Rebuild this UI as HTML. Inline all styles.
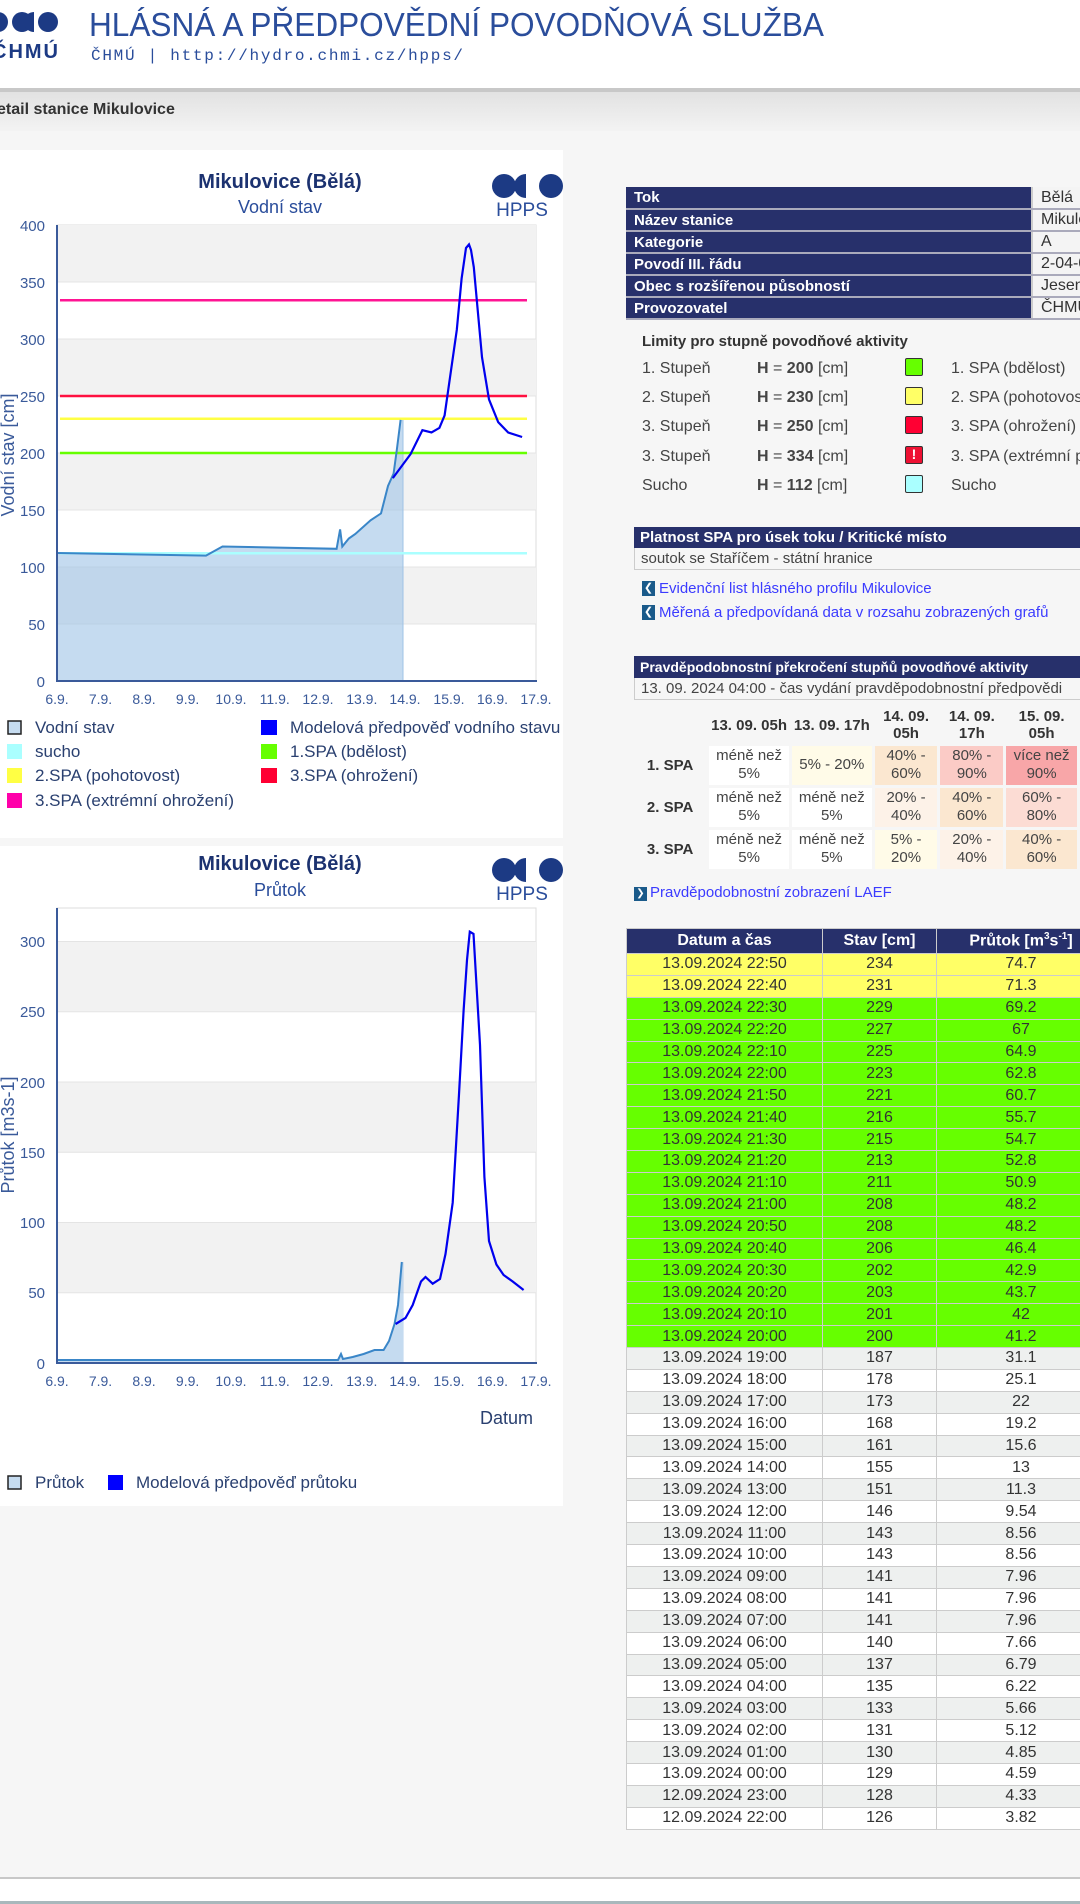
<!DOCTYPE html>
<html><head><meta charset="utf-8">
<style>
*{margin:0;padding:0;box-sizing:border-box}
html,body{width:1080px;height:1904px;overflow:hidden}
body{background:#f6f6f6;font-family:"Liberation Sans",sans-serif;color:#333}
#wrap{position:relative;width:1080px;height:1904px;overflow:hidden}
.a{position:absolute}
table{border-collapse:collapse}
.info{table-layout:fixed}
.info td{height:22px;font-size:15px;padding:0 8px;border-bottom:2px solid #aab;white-space:nowrap;overflow:hidden}
.info td.h{background:#27306b;color:#fff;font-weight:bold}
.info td.v{background:#f4f4f4;color:#333;font-size:16px;border-left:2px solid #ccc}
.lim div{position:absolute;font-size:16px;color:#444;white-space:nowrap}
.sq{position:absolute;width:18px;height:18px;border:1.5px solid #333;border-radius:2px}
.prob td{font-size:15px;text-align:center;line-height:18px;color:#444;border:3px solid #f6f6f6}
.prob th{font-size:15px;font-weight:bold;color:#333;line-height:17px}
.dt td{height:21.9px;font-size:16px;text-align:center;border:1px solid #ccc;color:#333;padding:0}
.dt th{height:25px;background:#27306b;color:#fff;font-size:16px;border:1px solid #ccc;white-space:nowrap}
.y td{background:#ffff66}.g td{background:#66ff00}.w td{background:#fff}.e td{background:#eef0ef}
</style></head><body><div id="wrap">
<div class="a" style="left:0;top:0;width:1080px;height:88px;background:#fff"></div>
<svg class="a" style="left:0;top:0" width="1080" height="140">
<circle cx="-2" cy="22" r="10" fill="#1c3a84"/>
<circle cx="22" cy="22" r="10" fill="#1c3a84"/>
<path d="M34 12 L34 32 A10 10 0 0 1 34 12Z" fill="#1c3a84"/>
<circle cx="48" cy="22" r="10" fill="#1c3a84"/>
<text x="-8" y="58" font-size="20" font-weight="bold" fill="#1c3a84" textLength="66">ČHMÚ</text>
<text x="89" y="36" font-size="33" fill="#2a4d9b" textLength="735" lengthAdjust="spacingAndGlyphs">HLÁSNÁ A PŘEDPOVĚDNÍ POVODŇOVÁ SLUŽBA</text>
<text x="91" y="60" font-size="16" fill="#2a4d9b" textLength="372" font-family="Liberation Mono">ČHMÚ  |  http://hydro.chmi.cz/hpps/</text>
</svg>
<div class="a" style="left:0;top:88px;width:1080px;height:4px;background:#c8c8c8"></div>
<div class="a" style="left:0;top:92px;width:1080px;height:39px;background:linear-gradient(#e2e2e2,#f3f3f3)"></div>
<div class="a" style="left:0;top:101px;font-size:16px;font-weight:bold;color:#333;margin-left:-3px">etail stanice Mikulovice</div>

<div class="a" style="left:0;top:150px;width:563px;height:688px;background:#fff"></div>
<div class="a" style="left:0;top:846px;width:563px;height:660px;background:#fff"></div>

<svg class="a" style="left:0;top:0" width="600" height="1520" font-family="Liberation Sans">
<text x="280" y="188" font-size="20" font-weight="bold" fill="#1c3270" text-anchor="middle">Mikulovice (Bělá)</text>
<text x="280" y="213" font-size="18" fill="#2a4d9b" text-anchor="middle">Vodní stav</text>
<g fill="#1c3a84"><circle cx="504" cy="186" r="12"/><path d="M526 174 L526 198 A12 12 0 0 1 526 174Z"/><circle cx="551" cy="186" r="12"/></g>
<text x="522" y="216" font-size="19" fill="#2a4d9b" text-anchor="middle">HPPS</text>
<rect x="57" y="225" width="479" height="456" fill="#fff" stroke="#ddd"/>
<g fill="#f2f2f2"><rect x="58" y="225" width="478" height="57"/><rect x="58" y="339" width="478" height="57"/><rect x="58" y="453" width="478" height="57"/><rect x="58" y="567" width="478" height="57"/></g>
<g stroke="#e4e4e4"><line x1="58" x2="536" y1="282" y2="282"/><line x1="58" x2="536" y1="339" y2="339"/><line x1="58" x2="536" y1="396" y2="396"/><line x1="58" x2="536" y1="453" y2="453"/><line x1="58" x2="536" y1="510" y2="510"/><line x1="58" x2="536" y1="567" y2="567"/><line x1="58" x2="536" y1="624" y2="624"/></g>
<polygon points="57,553 206,555.6 216.4,549.9 222.5,546.5 336.6,548.8 340.1,529.4 342.3,546.5 348.8,538.5 355.3,534 370.6,520.3 381,513.4 388,486 393.6,473.5 396.7,450.7 400.6,419.9 403,419.9 403,681 57,681" fill="#9fc3e6" fill-opacity="0.6"/>
<line x1="403" x2="403" y1="420" y2="681" stroke="#9fc3e6"/>
<g stroke-width="2.5"><line x1="60" x2="527" y1="300.2" y2="300.2" stroke="#ff1493"/><line x1="60" x2="527" y1="396" y2="396" stroke="#ff1040"/><line x1="60" x2="527" y1="418.8" y2="418.8" stroke="#ffff44"/><line x1="60" x2="527" y1="453" y2="453" stroke="#66ff00"/><line x1="60" x2="527" y1="553.3" y2="553.3" stroke="#aaffff"/></g>
<polyline points="57,553 206,555.6 216.4,549.9 222.5,546.5 336.6,548.8 340.1,529.4 342.3,546.5 348.8,538.5 355.3,534 370.6,520.3 381,513.4 388,486 393.6,473.5 396.7,450.7 400.6,419.9" fill="none" stroke="#3a86c8" stroke-width="2"/>
<polyline points="392.8,478.1 410.6,454.1 422.4,430.2 431.5,432.5 439.4,427.9 444.6,415.4 449.8,378.9 456.8,329.9 461.6,278.6 466,248 469,244.4 471,250 473.8,267.2 482,357.2 489,399.4 498.2,422.2 508.2,432.5 522.1,437" fill="none" stroke="#0000ee" stroke-width="2.2"/>
<line x1="57" x2="57" y1="225" y2="682" stroke="#3a5a9a" stroke-width="2"/>
<line x1="56" x2="537" y1="681" y2="681" stroke="#3a5a9a" stroke-width="2"/>
<g font-size="15" fill="#3a5a9a" text-anchor="end"><text x="45" y="231">400</text><text x="45" y="288">350</text><text x="45" y="345">300</text><text x="45" y="402">250</text><text x="45" y="459">200</text><text x="45" y="516">150</text><text x="45" y="573">100</text><text x="45" y="630">50</text><text x="45" y="687">0</text></g>
<text transform="translate(14,455) rotate(-90)" font-size="18" fill="#3a5a9a" text-anchor="middle">Vodní stav [cm]</text>
<g font-size="14" fill="#3a5a9a" text-anchor="middle"><text x="57" y="704">6.9.</text><text x="100.5" y="704">7.9.</text><text x="144" y="704">8.9.</text><text x="187.6" y="704">9.9.</text><text x="231" y="704">10.9.</text><text x="274.7" y="704">11.9.</text><text x="318" y="704">12.9.</text><text x="361.8" y="704">13.9.</text><text x="405" y="704">14.9.</text><text x="449" y="704">15.9.</text><text x="492.5" y="704">16.9.</text><text x="536" y="704">17.9.</text></g>
<g font-size="17" fill="#2a4070">
<rect x="8" y="721" width="13" height="13" fill="#c6dcf0" stroke="#222" stroke-width="1.5"/><text x="35" y="733">Vodní stav</text>
<rect x="7" y="744" width="15" height="15" fill="#aaffff"/><text x="35" y="757">sucho</text>
<rect x="7" y="768" width="15" height="15" fill="#ffff44"/><text x="35" y="781">2.SPA (pohotovost)</text>
<rect x="7" y="793" width="15" height="15" fill="#ff00aa"/><text x="35" y="806">3.SPA (extrémní ohrožení)</text>
<rect x="261" y="720" width="16" height="15" fill="#0000ff"/><text x="290" y="733">Modelová předpověď vodního stavu</text>
<rect x="261" y="744" width="16" height="15" fill="#66ff00"/><text x="290" y="757">1.SPA (bdělost)</text>
<rect x="261" y="768" width="16" height="15" fill="#ff0033"/><text x="290" y="781">3.SPA (ohrožení)</text>
</g>
<text x="280" y="870" font-size="20" font-weight="bold" fill="#1c3270" text-anchor="middle">Mikulovice (Bělá)</text>
<text x="280" y="896" font-size="18" fill="#2a4d9b" text-anchor="middle">Průtok</text>
<g fill="#1c3a84"><circle cx="504" cy="870" r="12"/><path d="M526 858 L526 882 A12 12 0 0 1 526 858Z"/><circle cx="551" cy="870" r="12"/></g>
<text x="522" y="900" font-size="19" fill="#2a4d9b" text-anchor="middle">HPPS</text>
<rect x="57" y="908" width="479" height="455" fill="#fff" stroke="#ddd"/>
<g fill="#f2f2f2"><rect x="58" y="941.5" width="478" height="70.25"/><rect x="58" y="1082" width="478" height="70.25"/><rect x="58" y="1222.5" width="478" height="70.25"/></g>
<g stroke="#e4e4e4"><line x1="58" x2="536" y1="941.5" y2="941.5"/><line x1="58" x2="536" y1="1011.7" y2="1011.7"/><line x1="58" x2="536" y1="1082" y2="1082"/><line x1="58" x2="536" y1="1152.2" y2="1152.2"/><line x1="58" x2="536" y1="1222.5" y2="1222.5"/><line x1="58" x2="536" y1="1292.7" y2="1292.7"/></g>
<polygon points="58,1360 338,1360 341,1354 343,1359 352.7,1357 363.6,1354 374.5,1350 383.6,1350 389,1341 394.5,1324 398,1305 401.8,1262 403.6,1262 403.6,1363 58,1363" fill="#9fc3e6" fill-opacity="0.6"/>
<polyline points="58,1360 338,1360 341,1354 343,1359 352.7,1357 363.6,1354 374.5,1350 383.6,1350 389,1341 394.5,1324 398,1305 401.8,1262" fill="none" stroke="#3a86c8" stroke-width="2"/>
<polyline points="395.6,1324 405.5,1318 412.7,1305 421,1281.5 425.5,1277 432.7,1283.7 440,1279 445.5,1254 452.7,1202.6 458.9,1096 463.6,1010.6 467,960 469.8,931.7 473.5,933.9 480,1044.8 484.4,1177 489,1241 496.4,1264.5 503.6,1275 512.7,1281.5 523.6,1290" fill="none" stroke="#0000ee" stroke-width="2.2"/>
<line x1="57" x2="57" y1="908" y2="1364" stroke="#3a5a9a" stroke-width="2"/>
<line x1="56" x2="537" y1="1363" y2="1363" stroke="#3a5a9a" stroke-width="2"/>
<g font-size="15" fill="#3a5a9a" text-anchor="end"><text x="45" y="947">300</text><text x="45" y="1017">250</text><text x="45" y="1088">200</text><text x="45" y="1158">150</text><text x="45" y="1228">100</text><text x="45" y="1298">50</text><text x="45" y="1369">0</text></g>
<text transform="translate(14,1135) rotate(-90)" font-size="18" fill="#3a5a9a" text-anchor="middle">Průtok [m3s-1]</text>
<g font-size="14" fill="#3a5a9a" text-anchor="middle"><text x="57" y="1386">6.9.</text><text x="100.5" y="1386">7.9.</text><text x="144" y="1386">8.9.</text><text x="187.6" y="1386">9.9.</text><text x="231" y="1386">10.9.</text><text x="274.7" y="1386">11.9.</text><text x="318" y="1386">12.9.</text><text x="361.8" y="1386">13.9.</text><text x="405" y="1386">14.9.</text><text x="449" y="1386">15.9.</text><text x="492.5" y="1386">16.9.</text><text x="536" y="1386">17.9.</text></g>
<text x="533" y="1424" font-size="18" fill="#2a4070" text-anchor="end">Datum</text>
<g font-size="17" fill="#2a4070">
<rect x="8" y="1476" width="13" height="13" fill="#c6dcf0" stroke="#222" stroke-width="1.5"/><text x="35" y="1488">Průtok</text>
<rect x="108" y="1475" width="15" height="15" fill="#0000ff"/><text x="136" y="1488">Modelová předpověď průtoku</text>
</g>
</svg>

<div class="a" style="left:626px;top:187px;width:454px;height:140px;overflow:hidden">
<table class="info" style="width:520px">
<colgroup><col style="width:406px"><col style="width:114px"></colgroup>
<tr><td class="h">Tok</td><td class="v">Bělá</td></tr>
<tr><td class="h">Název stanice</td><td class="v">Mikulovice</td></tr>
<tr><td class="h">Kategorie</td><td class="v">A</td></tr>
<tr><td class="h">Povodí III. řádu</td><td class="v">2-04-07</td></tr>
<tr><td class="h">Obec s rozšířenou působností</td><td class="v">Jeseník</td></tr>
<tr><td class="h">Provozovatel</td><td class="v">ČHMÚ</td></tr>
</table></div>
<div class="lim">
<div style="left:642px;top:333px;font-weight:bold;font-size:15px;color:#333">Limity pro stupně povodňové aktivity</div>
<div style="left:642px;top:360px">1. Stupeň</div><div style="left:757px;top:360px"><b>H</b> = <b>200</b> [cm]</div><div style="left:951px;top:360px">1. SPA (bdělost)</div>
<div style="left:642px;top:389px">2. Stupeň</div><div style="left:757px;top:389px"><b>H</b> = <b>230</b> [cm]</div><div style="left:951px;top:389px">2. SPA (pohotovost)</div>
<div style="left:642px;top:418px">3. Stupeň</div><div style="left:757px;top:418px"><b>H</b> = <b>250</b> [cm]</div><div style="left:951px;top:418px">3. SPA (ohrožení)</div>
<div style="left:642px;top:448px">3. Stupeň</div><div style="left:757px;top:448px"><b>H</b> = <b>334</b> [cm]</div><div style="left:951px;top:448px">3. SPA (extrémní povodeň)</div>
<div style="left:642px;top:477px">Sucho</div><div style="left:757px;top:477px"><b>H</b> = <b>112</b> [cm]</div><div style="left:951px;top:477px">Sucho</div>
</div>
<div class="sq" style="left:905px;top:358px;background:#66ff00"></div>
<div class="sq" style="left:905px;top:387px;background:#ffff66"></div>
<div class="sq" style="left:905px;top:416px;background:#ff0033"></div>
<div class="sq" style="left:905px;top:446px;background:#ee1133;color:#fff;font-size:14px;font-weight:bold;text-align:center;line-height:15px">!</div>
<div class="sq" style="left:905px;top:475px;background:#aaffff"></div>

<div class="a" style="left:634px;top:527px;width:446px;height:21px;background:#27306b;color:#fff;font-weight:bold;font-size:15px;padding:2px 6px">Platnost SPA pro úsek toku / Kritické místo</div>
<div class="a" style="left:634px;top:548px;width:446px;height:22px;background:#f6f6f6;border:1px solid #ccc;border-top:none;border-right:none;font-size:15px;padding:2px 6px;color:#444">soutok se Staříčem - státní hranice</div>
<div class="a" style="left:642px;top:581px;width:13px;height:15px;background:#1a5a8a;color:#fff;font-size:11px;line-height:15px;text-align:center">❮</div>
<div class="a" style="left:659px;top:580px;font-size:15px;color:#3b3bff">Evidenční list hlásného profilu Mikulovice</div>
<div class="a" style="left:642px;top:605px;width:13px;height:15px;background:#1a5a8a;color:#fff;font-size:11px;line-height:15px;text-align:center">❮</div>
<div class="a" style="left:659px;top:604px;font-size:15px;color:#3b3bff">Měřená a předpovídaná data v rozsahu zobrazených grafů</div>

<div class="a" style="left:634px;top:656px;width:446px;height:22px;background:#27306b;color:#fff;font-weight:bold;font-size:14px;padding:3px 6px;white-space:nowrap;overflow:hidden">Pravděpodobnostní překročení stupňů povodňové aktivity</div>
<div class="a" style="left:634px;top:678px;width:446px;height:22px;background:#f6f6f6;border:1px solid #ccc;border-top:none;border-right:none;font-size:15px;padding:2px 6px;color:#444;white-space:nowrap;overflow:hidden">13. 09. 2024 04:00 - čas vydání pravděpodobnostní předpovědi</div>
<div class="a" style="left:634px;top:708px;width:446px;height:170px;overflow:hidden">
<table class="prob">
<tr style="height:36px"><th style="width:74px"></th><th style="width:83px">13. 09. 05h</th><th style="width:83px">13. 09. 17h</th><th style="width:66px">14. 09.<br>05h</th><th style="width:66px">14. 09.<br>17h</th><th style="width:74px">15. 09.<br>05h</th></tr>
<tr style="height:42px"><th>1. SPA</th><td style="background:#fff">méně než<br>5%</td><td style="background:#fffbe8">5% - 20%</td><td style="background:#fbe7d0">40% -<br>60%</td><td style="background:#fbcbc6">80% -<br>90%</td><td style="background:#f8a6a8">více než<br>90%</td></tr>
<tr style="height:42px"><th>2. SPA</th><td style="background:#fff">méně než<br>5%</td><td style="background:#fff">méně než<br>5%</td><td style="background:#fdf2e8">20% -<br>40%</td><td style="background:#fbe7d0">40% -<br>60%</td><td style="background:#fcdcd4">60% -<br>80%</td></tr>
<tr style="height:42px"><th>3. SPA</th><td style="background:#fff">méně než<br>5%</td><td style="background:#fff">méně než<br>5%</td><td style="background:#fffbe8">5% -<br>20%</td><td style="background:#fdf2e8">20% -<br>40%</td><td style="background:#fbe7d0">40% -<br>60%</td></tr>
</table></div>
<div class="a" style="left:634px;top:887px;width:13px;height:14px;background:#1a5a8a;color:#fff;font-size:10px;line-height:14px;text-align:center">❯</div>
<div class="a" style="left:650px;top:884px;font-size:15px;color:#3b3bff">Pravděpodobnostní zobrazení LAEF</div>

<div class="a" style="left:626px;top:928px;width:454px;height:910px;overflow:hidden">
<table class="dt" style="width:480px">
<tr><th style="width:196px">Datum a čas</th><th style="width:114px">Stav [cm]</th><th>Průtok [m<sup style="font-size:10px">3</sup>s<sup style="font-size:10px">-1</sup>]</th></tr>
<tr class="y"><td>13.09.2024 22:50</td><td>234</td><td>74.7</td></tr>
<tr class="y"><td>13.09.2024 22:40</td><td>231</td><td>71.3</td></tr>
<tr class="g"><td>13.09.2024 22:30</td><td>229</td><td>69.2</td></tr>
<tr class="g"><td>13.09.2024 22:20</td><td>227</td><td>67</td></tr>
<tr class="g"><td>13.09.2024 22:10</td><td>225</td><td>64.9</td></tr>
<tr class="g"><td>13.09.2024 22:00</td><td>223</td><td>62.8</td></tr>
<tr class="g"><td>13.09.2024 21:50</td><td>221</td><td>60.7</td></tr>
<tr class="g"><td>13.09.2024 21:40</td><td>216</td><td>55.7</td></tr>
<tr class="g"><td>13.09.2024 21:30</td><td>215</td><td>54.7</td></tr>
<tr class="g"><td>13.09.2024 21:20</td><td>213</td><td>52.8</td></tr>
<tr class="g"><td>13.09.2024 21:10</td><td>211</td><td>50.9</td></tr>
<tr class="g"><td>13.09.2024 21:00</td><td>208</td><td>48.2</td></tr>
<tr class="g"><td>13.09.2024 20:50</td><td>208</td><td>48.2</td></tr>
<tr class="g"><td>13.09.2024 20:40</td><td>206</td><td>46.4</td></tr>
<tr class="g"><td>13.09.2024 20:30</td><td>202</td><td>42.9</td></tr>
<tr class="g"><td>13.09.2024 20:20</td><td>203</td><td>43.7</td></tr>
<tr class="g"><td>13.09.2024 20:10</td><td>201</td><td>42</td></tr>
<tr class="g"><td>13.09.2024 20:00</td><td>200</td><td>41.2</td></tr>
<tr class="e"><td>13.09.2024 19:00</td><td>187</td><td>31.1</td></tr>
<tr class="w"><td>13.09.2024 18:00</td><td>178</td><td>25.1</td></tr>
<tr class="e"><td>13.09.2024 17:00</td><td>173</td><td>22</td></tr>
<tr class="w"><td>13.09.2024 16:00</td><td>168</td><td>19.2</td></tr>
<tr class="e"><td>13.09.2024 15:00</td><td>161</td><td>15.6</td></tr>
<tr class="w"><td>13.09.2024 14:00</td><td>155</td><td>13</td></tr>
<tr class="e"><td>13.09.2024 13:00</td><td>151</td><td>11.3</td></tr>
<tr class="w"><td>13.09.2024 12:00</td><td>146</td><td>9.54</td></tr>
<tr class="e"><td>13.09.2024 11:00</td><td>143</td><td>8.56</td></tr>
<tr class="w"><td>13.09.2024 10:00</td><td>143</td><td>8.56</td></tr>
<tr class="e"><td>13.09.2024 09:00</td><td>141</td><td>7.96</td></tr>
<tr class="w"><td>13.09.2024 08:00</td><td>141</td><td>7.96</td></tr>
<tr class="e"><td>13.09.2024 07:00</td><td>141</td><td>7.96</td></tr>
<tr class="w"><td>13.09.2024 06:00</td><td>140</td><td>7.66</td></tr>
<tr class="e"><td>13.09.2024 05:00</td><td>137</td><td>6.79</td></tr>
<tr class="w"><td>13.09.2024 04:00</td><td>135</td><td>6.22</td></tr>
<tr class="e"><td>13.09.2024 03:00</td><td>133</td><td>5.66</td></tr>
<tr class="w"><td>13.09.2024 02:00</td><td>131</td><td>5.12</td></tr>
<tr class="e"><td>13.09.2024 01:00</td><td>130</td><td>4.85</td></tr>
<tr class="w"><td>13.09.2024 00:00</td><td>129</td><td>4.59</td></tr>
<tr class="e"><td>12.09.2024 23:00</td><td>128</td><td>4.33</td></tr>
<tr class="w"><td>12.09.2024 22:00</td><td>126</td><td>3.82</td></tr>
</table></div>

<div class="a" style="left:0;top:1877px;width:1080px;height:2px;background:#c8c8c8"></div>
<div class="a" style="left:0;top:1879px;width:1080px;height:22px;background:#fff"></div>
<div class="a" style="left:0;top:1901px;width:1080px;height:3px;background:#a9b8bc"></div>
</div></body></html>
